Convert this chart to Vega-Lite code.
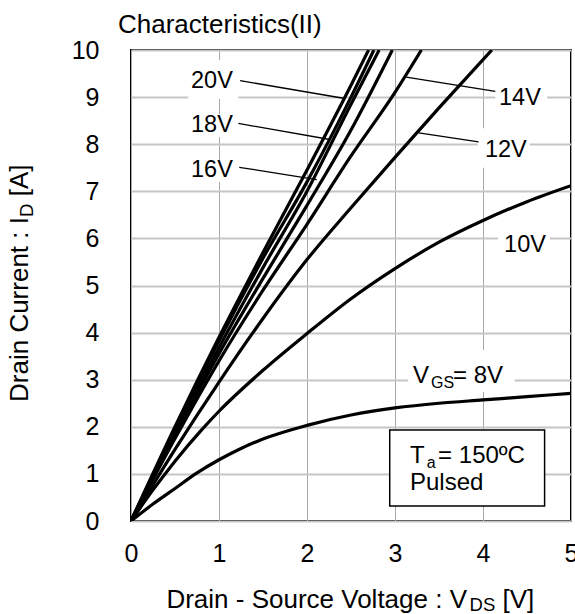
{
  "$schema": "https://vega.github.io/schema/vega-lite/v6.json",
  "width": 440,
  "height": 471,
  "autosize": {"type": "none"},
  "padding": {"left": 131, "top": 50, "right": 4, "bottom": 93},
  "background": "white",
  "config": {
    "view": {"stroke": "black", "strokeWidth": 2},
    "font": "Liberation Sans",
    "text": {"font": "Liberation Sans", "color": "black"}
  },
  "datasets": {
    "curves": [
      {"s": "8V", "x": 0, "y": 0}, {"s": "8V", "x": 0.25, "y": 0.36}, {"s": "8V", "x": 0.5, "y": 0.69}, {"s": "8V", "x": 0.75, "y": 1.02}, {"s": "8V", "x": 1, "y": 1.3}, {"s": "8V", "x": 1.25, "y": 1.54}, {"s": "8V", "x": 1.5, "y": 1.74}, {"s": "8V", "x": 2, "y": 2.03}, {"s": "8V", "x": 2.5, "y": 2.25}, {"s": "8V", "x": 3, "y": 2.4}, {"s": "8V", "x": 3.5, "y": 2.5}, {"s": "8V", "x": 4, "y": 2.57}, {"s": "8V", "x": 4.5, "y": 2.64}, {"s": "8V", "x": 5, "y": 2.71},
      {"s": "10V", "x": 0, "y": 0}, {"s": "10V", "x": 0.25, "y": 0.66}, {"s": "10V", "x": 0.5, "y": 1.27}, {"s": "10V", "x": 0.8, "y": 1.93}, {"s": "10V", "x": 1, "y": 2.33}, {"s": "10V", "x": 1.5, "y": 3.2}, {"s": "10V", "x": 2, "y": 3.98}, {"s": "10V", "x": 2.5, "y": 4.72}, {"s": "10V", "x": 3, "y": 5.36}, {"s": "10V", "x": 3.5, "y": 5.92}, {"s": "10V", "x": 4, "y": 6.38}, {"s": "10V", "x": 4.5, "y": 6.78}, {"s": "10V", "x": 5, "y": 7.12},
      {"s": "12V", "x": 0, "y": 0}, {"s": "12V", "x": 0.5, "y": 1.52}, {"s": "12V", "x": 1, "y": 2.95}, {"s": "12V", "x": 1.5, "y": 4.3}, {"s": "12V", "x": 2, "y": 5.55}, {"s": "12V", "x": 2.5, "y": 6.65}, {"s": "12V", "x": 3, "y": 7.72}, {"s": "12V", "x": 3.5, "y": 8.77}, {"s": "12V", "x": 4.1, "y": 10},
      {"s": "14V", "x": 0, "y": 0}, {"s": "14V", "x": 0.5, "y": 1.75}, {"s": "14V", "x": 1, "y": 3.4}, {"s": "14V", "x": 1.5, "y": 4.9}, {"s": "14V", "x": 2, "y": 6.3}, {"s": "14V", "x": 2.5, "y": 7.75}, {"s": "14V", "x": 3, "y": 9.1}, {"s": "14V", "x": 3.3, "y": 10},
      {"s": "15V", "x": 0, "y": 0}, {"s": "15V", "x": 0.5, "y": 1.82}, {"s": "15V", "x": 1, "y": 3.55}, {"s": "15V", "x": 1.5, "y": 5.15}, {"s": "15V", "x": 2, "y": 6.7}, {"s": "15V", "x": 2.5, "y": 8.3}, {"s": "15V", "x": 2.97, "y": 10},
      {"s": "16V", "x": 0, "y": 0}, {"s": "16V", "x": 0.5, "y": 1.88}, {"s": "16V", "x": 1, "y": 3.68}, {"s": "16V", "x": 1.5, "y": 5.38}, {"s": "16V", "x": 2, "y": 7.0}, {"s": "16V", "x": 2.5, "y": 8.85}, {"s": "16V", "x": 2.82, "y": 10},
      {"s": "18V", "x": 0, "y": 0}, {"s": "18V", "x": 0.5, "y": 1.95}, {"s": "18V", "x": 1, "y": 3.82}, {"s": "18V", "x": 1.5, "y": 5.58}, {"s": "18V", "x": 2, "y": 7.2}, {"s": "18V", "x": 2.5, "y": 9.0}, {"s": "18V", "x": 2.76, "y": 10},
      {"s": "20V", "x": 0, "y": 0}, {"s": "20V", "x": 0.5, "y": 2.0}, {"s": "20V", "x": 1, "y": 3.9}, {"s": "20V", "x": 1.5, "y": 5.7}, {"s": "20V", "x": 2, "y": 7.45}, {"s": "20V", "x": 2.5, "y": 9.25}, {"s": "20V", "x": 2.7, "y": 10}
    ],
    "masks": [
      {"x": 0.65, "x2": 1.22, "y": 8.96, "y2": 9.79},
      {"x": 0.65, "x2": 1.22, "y": 8.15, "y2": 8.64},
      {"x": 0.65, "x2": 1.22, "y": 7.2, "y2": 7.66},
      {"x": 4.14, "x2": 4.73, "y": 8.77, "y2": 9.26},
      {"x": 3.94, "x2": 4.53, "y": 7.5, "y2": 8.34},
      {"x": 4.17, "x2": 4.76, "y": 5.58, "y2": 6.18},
      {"x": 3.15, "x2": 4.36, "y": 2.74, "y2": 3.63}
    ],
    "box": [{"x": 2.94, "x2": 4.7, "y": 0.32, "y2": 1.93}],
    "leaders": [
      {"x": 1.24, "y": 9.35, "x2": 2.43, "y2": 8.97},
      {"x": 1.22, "y": 8.44, "x2": 2.26, "y2": 8.1},
      {"x": 1.23, "y": 7.51, "x2": 2.11, "y2": 7.25},
      {"x": 4.14, "y": 9.12, "x2": 3.11, "y2": 9.43},
      {"x": 3.95, "y": 8.05, "x2": 3.27, "y2": 8.24}
    ],
    "curveLabels": [
      {"t": "20V", "x": 0.92, "y": 9.19},
      {"t": "18V", "x": 0.92, "y": 8.265},
      {"t": "16V", "x": 0.92, "y": 7.31},
      {"t": "14V", "x": 4.42, "y": 8.83},
      {"t": "12V", "x": 4.26, "y": 7.735},
      {"t": "10V", "x": 4.477, "y": 5.72}
    ],
    "mainText": [
      {"t": "V", "x": 3.205, "y": 2.92},
      {"t": "= 8V", "x": 3.66, "y": 2.92},
      {"t": "T", "x": 3.17, "y": 1.225},
      {"t": "= 150ºC", "x": 3.49, "y": 1.225},
      {"t": "Pulsed", "x": 3.17, "y": 0.658}
    ],
    "subText": [
      {"t": "GS", "x": 3.41, "y": 2.82},
      {"t": "a", "x": 3.36, "y": 1.119}
    ],
    "bigText": [
      {"t": "Characteristics(II)", "x": -0.148, "y": 10.355},
      {"t": "Drain - Source Voltage : V", "x": 0.4023, "y": -1.84},
      {"t": "[V]", "x": 4.222, "y": -1.84}
    ],
    "bigSub": [
      {"t": "DS", "x": 3.847, "y": -1.915}
    ],
    "yTitle": [
      {"t": "Drain Current : I", "x": -1.165, "y": 2.527},
      {"t": "[A]", "x": -1.165, "y": 6.894}
    ],
    "yTitleSub": [
      {"t": "D", "x": -1.119, "y": 6.455}
    ]
  },
  "encoding": {
    "x": {
      "field": "x", "type": "quantitative",
      "scale": {"domain": [0, 5], "nice": false, "zero": false},
      "axis": {
        "values": [0, 1, 2, 3, 4, 5], "title": null, "domain": false, "ticks": false,
        "labelFontSize": 25, "labelFont": "Liberation Sans", "labelColor": "black",
        "labelPadding": 20, "labelDx": -5, "labelFlush": false, "labelOverlap": false, "labelBound": false,
        "gridColor": "#a8a8a8", "gridWidth": 1, "gridOpacity": 1, "format": "d"
      }
    },
    "y": {
      "field": "y", "type": "quantitative",
      "scale": {"domain": [0, 10], "nice": false, "zero": false},
      "axis": {
        "values": [0, 1, 2, 3, 4, 5, 6, 7, 8, 9, 10], "title": null, "domain": false, "ticks": false,
        "labelFontSize": 25, "labelFont": "Liberation Sans", "labelColor": "black",
        "labelPadding": 32, "labelFlush": false, "labelOverlap": false, "labelBound": false,
        "gridColor": "#c6c6c6", "gridWidth": 2, "gridOpacity": 1, "format": "d"
      }
    }
  },
  "layer": [
    {
      "data": {"name": "masks"},
      "mark": {"type": "rect", "fill": "white", "stroke": null},
      "encoding": {"x2": {"field": "x2"}, "y2": {"field": "y2"}}
    },
    {
      "data": {"name": "box"},
      "mark": {"type": "rect", "fill": "white", "stroke": "black", "strokeWidth": 1.5},
      "encoding": {"x2": {"field": "x2"}, "y2": {"field": "y2"}}
    },
    {
      "data": {"name": "curves"},
      "mark": {"type": "line", "stroke": "black", "strokeWidth": 3.2, "clip": true, "interpolate": "monotone"},
      "encoding": {"detail": {"field": "s", "type": "nominal"}}
    },
    {
      "data": {"name": "leaders"},
      "mark": {"type": "rule", "stroke": "black", "strokeWidth": 1.3},
      "encoding": {"x2": {"field": "x2"}, "y2": {"field": "y2"}}
    },
    {
      "data": {"name": "curveLabels"},
      "mark": {"type": "text", "fontSize": 23.5, "align": "center", "baseline": "alphabetic"},
      "encoding": {"text": {"field": "t"}}
    },
    {
      "data": {"name": "mainText"},
      "mark": {"type": "text", "fontSize": 24, "align": "left", "baseline": "alphabetic"},
      "encoding": {"text": {"field": "t"}}
    },
    {
      "data": {"name": "subText"},
      "mark": {"type": "text", "fontSize": 16, "align": "left", "baseline": "alphabetic"},
      "encoding": {"text": {"field": "t"}}
    },
    {
      "data": {"name": "bigText"},
      "mark": {"type": "text", "fontSize": 26, "align": "left", "baseline": "alphabetic"},
      "encoding": {"text": {"field": "t"}}
    },
    {
      "data": {"name": "bigSub"},
      "mark": {"type": "text", "fontSize": 18.5, "align": "left", "baseline": "alphabetic"},
      "encoding": {"text": {"field": "t"}}
    },
    {
      "data": {"name": "yTitle"},
      "mark": {"type": "text", "fontSize": 26, "align": "left", "baseline": "alphabetic", "angle": 270},
      "encoding": {"text": {"field": "t"}}
    },
    {
      "data": {"name": "yTitleSub"},
      "mark": {"type": "text", "fontSize": 18.5, "align": "left", "baseline": "alphabetic", "angle": 270},
      "encoding": {"text": {"field": "t"}}
    }
  ]
}
